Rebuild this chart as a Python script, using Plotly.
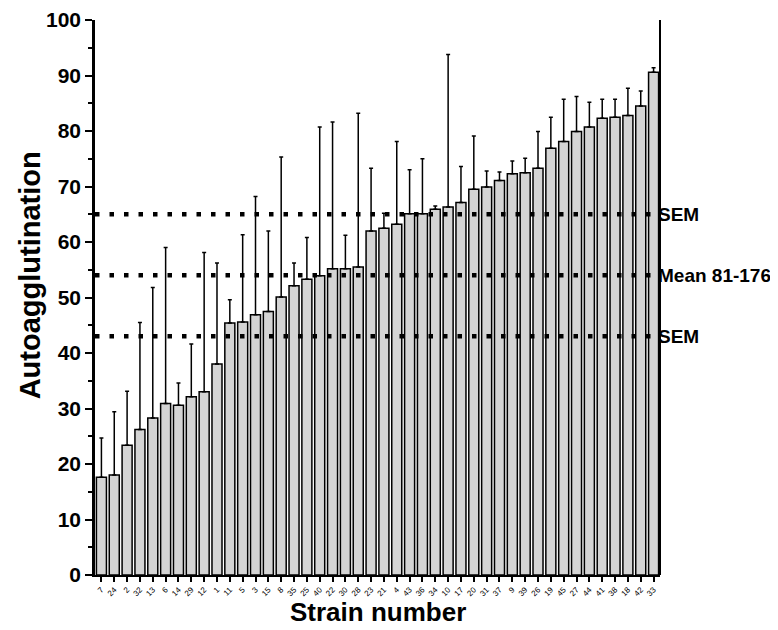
import plotly.graph_objects as go

strains = ["7", "24", "2", "32", "13", "6", "14", "29", "12", "1", "11", "5", "3", "15", "8",
           "35", "25", "40", "22", "30", "28", "23", "21", "4", "43", "36", "34", "10", "17",
           "20", "31", "37", "9", "39", "26", "19", "45", "27", "44", "41", "38", "18", "42", "33"]

autoagg = [17.6, 18.0, 23.4, 26.2, 28.3, 30.9, 30.6, 32.1, 33.0, 38.0, 45.4, 45.6, 46.9, 47.5, 50.1,
           52.1, 53.3, 53.9, 55.2, 55.2, 55.5, 62.0, 62.5, 63.2, 65.1, 65.1, 65.9, 66.3, 67.1,
           69.5, 69.9, 71.1, 72.3, 72.5, 73.3, 76.9, 78.1, 79.9, 80.7, 82.3, 82.5, 82.8, 84.5, 90.6]

err_top = [24.7, 29.4, 33.1, 45.5, 51.8, 59.0, 34.6, 41.6, 58.1, 56.2, 49.6, 61.3, 68.2, 62.0, 75.3,
           56.2, 60.8, 80.7, 81.6, 61.2, 83.2, 73.3, 65.2, 78.1, 73.0, 75.0, 66.5, 93.8, 73.6,
           79.1, 72.8, 72.6, 74.6, 75.1, 79.9, 82.5, 85.7, 86.2, 85.2, 85.7, 85.7, 87.7, 87.2, 91.4]

ref_lines = [65, 54, 43]
ref_labels = ["SEM", "Mean 81-176", "SEM"]

err_plus = [e - v for e, v in zip(err_top, autoagg)]

font = "Liberation Sans, Arial, sans-serif"

bars = go.Bar(
    x=strains, y=autoagg,
    marker=dict(color="#d4d4d4", line=dict(color="black", width=1.5)),
    error_y=dict(type="data", array=err_plus, arrayminus=[0] * len(err_plus),
                 symmetric=False, color="black", thickness=1.5, width=2),
    showlegend=False,
)

fig = go.Figure(data=[bars])

for yv, lab in zip(ref_lines, ref_labels):
    fig.add_shape(type="line", xref="x", yref="y", x0=-0.5, x1=len(strains) - 0.6,
                  y0=yv, y1=yv, line=dict(color="black", width=4.5, dash="4.5px,10px"))
    fig.add_annotation(x=1.0, xref="paper", y=yv, yref="y", text=lab, showarrow=False,
                       xanchor="left", xshift=-4,
                       font=dict(family=font, size=19, color="black", weight="bold"))

# right-hand vertical line
fig.add_shape(type="line", xref="paper", yref="y", x0=1.0, x1=1.0, y0=0, y1=100.7,
              line=dict(color="black", width=2))

# axis titles
fig.add_annotation(x=0.5, xref="paper", y=-0.067, yref="paper", text="Strain number",
                   showarrow=False, xanchor="center", yanchor="middle",
                   font=dict(family=font, size=26, color="black", weight="bold"))
fig.add_annotation(x=-0.115, xref="paper", y=0.54, yref="paper", text="Autoagglutination",
                   showarrow=False, textangle=-90, xanchor="center", yanchor="middle",
                   font=dict(family=font, size=29, color="black", weight="bold"))

fig.update_layout(
    width=778, height=630,
    margin=dict(l=87, r=126, t=12, b=63),
    plot_bgcolor="white", paper_bgcolor="white",
    bargap=0.22,
    font=dict(family=font, color="black"),
    xaxis=dict(
        automargin=False,
        tickangle=-45, tickfont=dict(family=font, size=8, color="black"),
        showline=True, linecolor="black", linewidth=2,
        ticks="outside", ticklen=5, tickwidth=1.5, tickcolor="black",
        showgrid=False, range=[-0.5, len(strains) - 0.5],
    ),
    yaxis=dict(
        automargin=False, ticklabeloverflow="allow",
        range=[0, 100.001], tickvals=[0, 10, 20, 30, 40, 50, 60, 70, 80, 90, 100],
        tickfont=dict(family=font, size=21, color="black", weight="bold"),
        showline=True, linecolor="black", linewidth=2.5,
        ticks="outside", ticklen=7, tickwidth=2, tickcolor="black",
        minor=dict(dtick=5, ticks="outside", ticklen=4, tickwidth=1.5, tickcolor="black"),
        showgrid=False, zeroline=False,
    ),
)

fig.write_html("out.html")
